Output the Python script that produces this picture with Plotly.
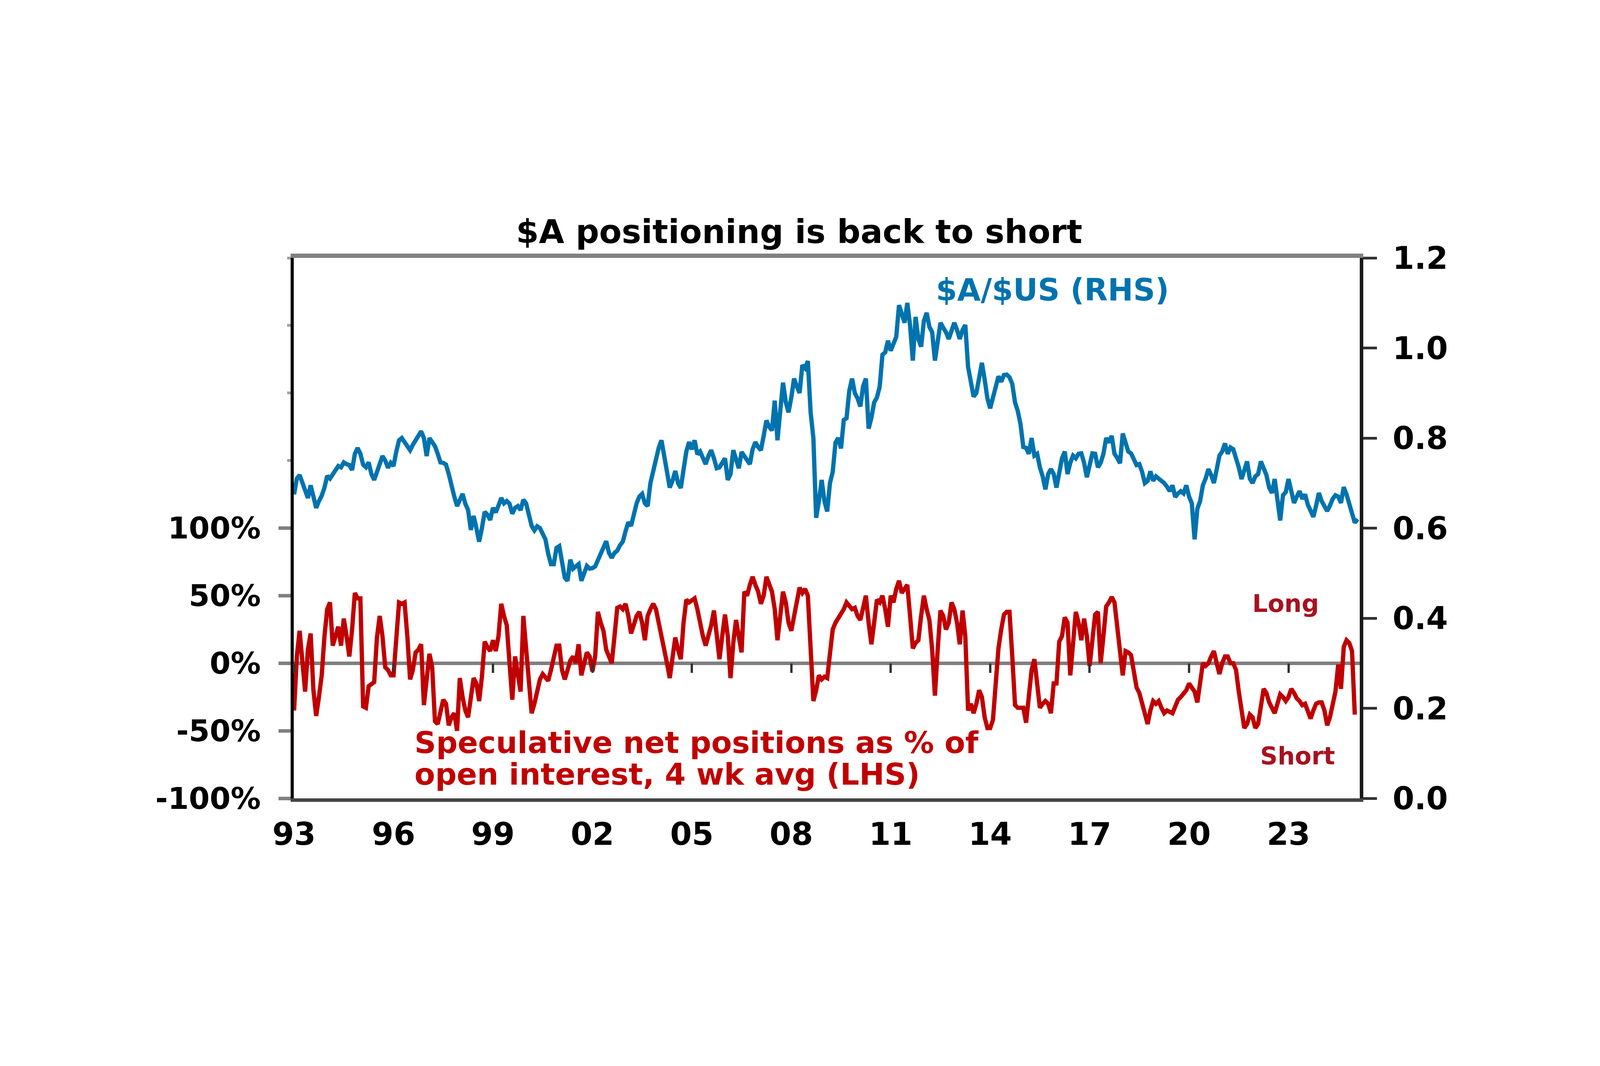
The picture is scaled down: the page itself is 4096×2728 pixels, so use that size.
import plotly.graph_objects as go

# ---------------- data (monthly, Jan 1993 onward) ----------------
aud_usd = [
    0.675, 0.71, 0.718, 0.70, 0.685, 0.667, 0.695, 0.665, 0.645, 0.66, 0.672, 0.69,      # 1993
    0.716, 0.71, 0.72, 0.728, 0.738, 0.735, 0.746, 0.742, 0.74, 0.729, 0.765, 0.778,      # 1994
    0.765, 0.741, 0.735, 0.746, 0.72, 0.707, 0.725, 0.745, 0.76, 0.75, 0.734, 0.745,      # 1995
    0.738, 0.77, 0.795, 0.80, 0.79, 0.78, 0.773, 0.785, 0.795, 0.805, 0.815, 0.80,        # 1996
    0.76, 0.80, 0.79, 0.782, 0.765, 0.746, 0.745, 0.741, 0.72, 0.689, 0.67, 0.649,        # 1997
    0.665, 0.676, 0.654, 0.64, 0.596, 0.627, 0.60, 0.570, 0.60, 0.636, 0.63, 0.618,       # 1998
    0.645, 0.635, 0.65, 0.667, 0.655, 0.66, 0.654, 0.632, 0.645, 0.649, 0.64, 0.663,      # 1999
    0.655, 0.627, 0.605, 0.595, 0.604, 0.60, 0.585, 0.575, 0.543, 0.52, 0.52, 0.556,      # 2000
    0.56, 0.53, 0.49, 0.483, 0.53, 0.51, 0.516, 0.52, 0.483, 0.50, 0.516, 0.51,           # 2001
    0.511, 0.515, 0.53, 0.545, 0.56, 0.571, 0.545, 0.534, 0.545, 0.55, 0.562, 0.57,       # 2002
    0.593, 0.613, 0.605, 0.63, 0.655, 0.67, 0.676, 0.655, 0.649, 0.70, 0.725, 0.755,      # 2003
    0.778, 0.795, 0.76, 0.738, 0.69, 0.705, 0.727, 0.70, 0.689, 0.73, 0.77, 0.791,        # 2004
    0.775, 0.795, 0.764, 0.77, 0.755, 0.742, 0.76, 0.773, 0.755, 0.733, 0.735, 0.745,     # 2005
    0.755, 0.707, 0.72, 0.773, 0.755, 0.733, 0.769, 0.76, 0.75, 0.742, 0.775, 0.791,      # 2006
    0.78, 0.773, 0.805, 0.839, 0.825, 0.817, 0.883, 0.795, 0.86, 0.923, 0.88, 0.857,      # 2007
    0.89, 0.932, 0.915, 0.90, 0.962, 0.955, 0.971, 0.857, 0.80, 0.623, 0.66, 0.707,       # 2008
    0.66, 0.637, 0.70, 0.725, 0.79, 0.80, 0.777, 0.84, 0.844, 0.905, 0.932, 0.90,         # 2009
    0.888, 0.870, 0.915, 0.932, 0.821, 0.845, 0.879, 0.89, 0.914, 0.985, 0.99, 1.016,     # 2010
    0.994, 1.01, 1.025, 1.095, 1.075, 1.056, 1.10, 1.05, 0.972, 1.069, 1.02, 1.003,       # 2011
    1.06, 1.078, 1.047, 1.035, 0.972, 1.01, 1.056, 1.045, 1.035, 1.020, 1.04, 1.056,      # 2012
    1.04, 1.020, 1.04, 1.051, 0.958, 0.93, 0.892, 0.90, 0.935, 0.967, 0.93, 0.888,        # 2013
    0.866, 0.89, 0.915, 0.937, 0.925, 0.94, 0.941, 0.935, 0.92, 0.879, 0.86, 0.83,        # 2014
    0.78, 0.778, 0.765, 0.80, 0.761, 0.765, 0.735, 0.715, 0.686, 0.72, 0.731, 0.72,       # 2015
    0.69, 0.72, 0.755, 0.77, 0.72, 0.745, 0.761, 0.755, 0.765, 0.766, 0.745, 0.713,       # 2016
    0.745, 0.766, 0.765, 0.735, 0.745, 0.765, 0.80, 0.79, 0.805, 0.765, 0.756, 0.744,     # 2017
    0.81, 0.79, 0.77, 0.766, 0.755, 0.74, 0.742, 0.725, 0.70, 0.705, 0.726, 0.705,        # 2018
    0.715, 0.71, 0.708, 0.70, 0.692, 0.682, 0.695, 0.669, 0.677, 0.682, 0.677, 0.695,     # 2019
    0.67, 0.655, 0.575, 0.643, 0.66, 0.695, 0.71, 0.731, 0.718, 0.70, 0.73, 0.761,        # 2020
    0.77, 0.788, 0.765, 0.779, 0.775, 0.757, 0.735, 0.709, 0.73, 0.748, 0.71, 0.70,       # 2021
    0.715, 0.72, 0.748, 0.735, 0.718, 0.69, 0.678, 0.709, 0.655, 0.617, 0.673, 0.68,      # 2022
    0.709, 0.685, 0.656, 0.67, 0.682, 0.665, 0.675, 0.652, 0.64, 0.625, 0.65, 0.678,      # 2023
    0.66, 0.65, 0.638, 0.65, 0.665, 0.673, 0.67, 0.656, 0.691, 0.675, 0.656, 0.63,        # 2024
    0.612, 0.62,                                                                          # 2025
]

net_positions = [
    -35, 5, 24, 0, -21, 10, 22, -20, -39, -25, -9, 20,        # 1993
    40, 45, 13, 20, 27, 13, 33, 20, 5, 25, 52, 48,            # 1994
    48, -32, -33, -17, -15, -14, 19, 35, 20, -3, -5, -9,      # 1995
    -9, 22, 45, 44, 45, 20, -12, -5, 8, 10, 14, -31,          # 1996
    -10, 7, -3, -43, -45, -35, -27, -30, -46, -40, -37, -50,  # 1997
    -11, -25, -35, -40, -25, -11, -15, -28, -10, 16, 12, 9,   # 1998
    17, 9, 20, 44, 35, 28, 0, -27, 5, -10, -21, 35,           # 1999
    10, -15, -37, -30, -20, -12, -8, -10, -13, -5, 5, 13,     # 2000
    13, -5, -12, -5, 2, 5, 0, 14, -9, 0, 8, 5,                # 2001
    -6, 5, 38, 30, 24, 10, 5, 0, 20, 41, 42, 40,              # 2002
    44, 35, 22, 30, 35, 38, 30, 17, 35, 40, 44, 40,           # 2003
    30, 20, 13, 0, -11, 5, 19, 10, 3, 30, 47, 45,             # 2004
    47, 48, 40, 28, 20, 13, 20, 28, 39, 20, 3, 20,            # 2005
    36, 20, -11, 15, 32, 20, 8, 53, 50, 58, 64, 58,           # 2006
    53, 44, 50, 64, 58, 53, 40, 17, 35, 53, 45, 30,           # 2007
    24, 35, 45, 56, 52, 55, 50, 2, -28, -20, -9, -12,         # 2008
    -10, -11, 10, 25, 30, 33, 36, 40, 45, 42, 40, 41,         # 2009
    35, 32, 40, 50, 30, 14, 30, 47, 45, 50, 40, 27,           # 2010
    50, 45, 55, 61, 52, 55, 58, 35, 11, 15, 17, 35,           # 2011
    50, 40, 32, 10, -24, 10, 39, 35, 25, 30, 45, 40,          # 2012
    30, 14, 39, 20, -35, -30, -37, -30, -20, -25, -40, -48,   # 2013
    -48, -42, -10, 11, 25, 36, 38, 38, 5, -31, -33, -33,      # 2014
    -33, -44, -20, -5, 3, -15, -33, -30, -28, -30, -37, -15,  # 2015
    -15, 16, 20, 34, 30, -9, 15, 38, 30, 17, 33, 20,          # 2016
    -2, 20, 36, 38, 0, 20, 42, 45, 49, 45, 28, 10,            # 2017
    -9, 9, 8, 6, -5, -18, -22, -29, -38, -45, -35, -28,       # 2018
    -30, -28, -33, -37, -35, -36, -37, -32, -27, -25, -23, -20,  # 2019
    -15, -18, -21, -29, -15, 0, -2, 0, 5, 9, 0, -8,           # 2020
    0, 5, 5, 0, 0, -5, -21, -35, -48, -45, -38, -40,          # 2021
    -48, -45, -30, -19, -22, -29, -33, -37, -30, -23, -25, -28,  # 2022
    -25, -19, -22, -26, -28, -31, -30, -35, -41, -35, -30, -29,  # 2023
    -29, -35, -46, -40, -30, -21, -1, -19, 12, 17, 15, 9,     # 2024
    -38,                                                       # 2025
]

year_ticks = [1993, 1996, 1999, 2002, 2005, 2008, 2011, 2014, 2017, 2020, 2023]
year_labels = ["93", "96", "99", "02", "05", "08", "11", "14", "17", "20", "23"]
lhs_ticks = [-100, -50, 0, 50, 100]
lhs_labels = ["-100%", "-50%", "0%", "50%", "100%"]
lhs_minor = [150, 200, 250, 300]
rhs_ticks = [0.0, 0.2, 0.4, 0.6, 0.8, 1.0, 1.2]
rhs_labels = ["0.0", "0.2", "0.4", "0.6", "0.8", "1.0", "1.2"]

start_year = 1993
t_aud = [start_year + i / 12 for i in range(len(aud_usd))]
t_pos = [start_year + i / 12 for i in range(len(net_positions))]

# ---------------- styling ----------------
W, H = 4096, 2728
L, R, T, B = 752, 3481, 660, 2043.5
BLUE = "#0073AE"
RED = "#C00000"
DARKRED = "#A8111F"
FONT = "DejaVu Sans"
ASC = 0.346  # (ascent - descent) / 2 for DejaVu Sans, in em


def px(x):
    return (x - L) / (R - L)


def py(y):
    return (B - y) / (B - T)


fig = go.Figure()
fig.add_trace(go.Scatter(x=t_pos, y=net_positions, mode="lines",
                         line=dict(color=RED, width=11), xaxis="x", yaxis="y",
                         hoverinfo="skip", showlegend=False))
fig.add_trace(go.Scatter(x=t_aud, y=aud_usd, mode="lines",
                         line=dict(color=BLUE, width=11), xaxis="x", yaxis="y2",
                         hoverinfo="skip", showlegend=False))
# empty traces so the helper axes (ticks on the zero line, top frame) are drawn
fig.add_trace(go.Scatter(x=[None], y=[None], xaxis="x2", yaxis="y",
                         hoverinfo="skip", showlegend=False))
fig.add_trace(go.Scatter(x=[None], y=[None], xaxis="x3", yaxis="y",
                         hoverinfo="skip", showlegend=False))

xr = [1992.99, 2025.15]
lfont = dict(family=FONT, size=77, color="black", weight="bold")
rfont = dict(family=FONT, size=80, color="black", weight="bold")
xfont = dict(family=FONT, size=80, color="black", weight="bold")

fig.update_layout(
    width=W, height=H,
    margin=dict(l=L, r=W - R, t=T, b=H - B, pad=0),
    paper_bgcolor="white", plot_bgcolor="white",
    showlegend=False,
    xaxis=dict(range=xr, tickvals=year_ticks, ticktext=year_labels,
               ticks="", showline=True, linecolor="#454545", linewidth=9,
               showgrid=False, zeroline=False, tickfont=xfont,
               ticklabelstandoff=14),
    xaxis2=dict(range=xr, overlaying="x", anchor="free", position=0.25,
                side="bottom", tickvals=year_ticks, ticks="outside",
                ticklen=24, tickwidth=6, tickcolor="#333333",
                showticklabels=False, showline=False, showgrid=False,
                zeroline=False),
    xaxis3=dict(range=xr, overlaying="x", anchor="y", side="top",
                showline=True, linecolor="#808080", linewidth=11,
                ticks="", showticklabels=False, showgrid=False,
                zeroline=False),
    yaxis=dict(range=[-100, 300], tickvals=lhs_ticks, ticktext=lhs_labels,
               ticks="outside", ticklen=31, tickwidth=9, tickcolor="#808080",
               minor=dict(tickvals=lhs_minor, ticks="outside", ticklen=9,
                          tickwidth=7, tickcolor="#A0A0A0"),
               showline=True, linecolor="black", linewidth=8,
               zeroline=True, zerolinecolor="#808080", zerolinewidth=9,
               showgrid=False, tickfont=lfont, ticklabelstandoff=30),
    yaxis2=dict(range=[0, 1.2], overlaying="y", side="right", anchor="x",
                tickvals=rhs_ticks, ticktext=rhs_labels,
                ticks="outside", ticklen=35, tickwidth=7, tickcolor="#333333",
                showline=True, linecolor="#1a1a1a", linewidth=9,
                showgrid=False, zeroline=False, tickfont=rfont,
                ticklabelstandoff=24),
)


def note(text, x, baseline, size, color, xanchor):
    fig.add_annotation(text=text, xref="paper", yref="paper",
                       x=px(x), y=py(baseline - ASC * size),
                       xanchor=xanchor, yanchor="middle", showarrow=False,
                       font=dict(family=FONT, size=size, color=color,
                                 weight="bold"))


note("$A positioning is back to short", 2046, 621.6, 84, "black", "center")
note("$A/$US (RHS)", 2394, 769.5, 78, BLUE, "left")
note("Speculative net positions as % of", 1059, 1928, 77, RED, "left")
note("open interest, 4 wk avg (LHS)", 1059, 2009, 77, RED, "left")
note("Long", 3291, 1566, 62, DARKRED, "center")
note("Short", 3322, 1956, 62, DARKRED, "center")

fig.write_html("out.html", config={"displayModeBar": False},
               post_script="document.body.style.margin='0';")
